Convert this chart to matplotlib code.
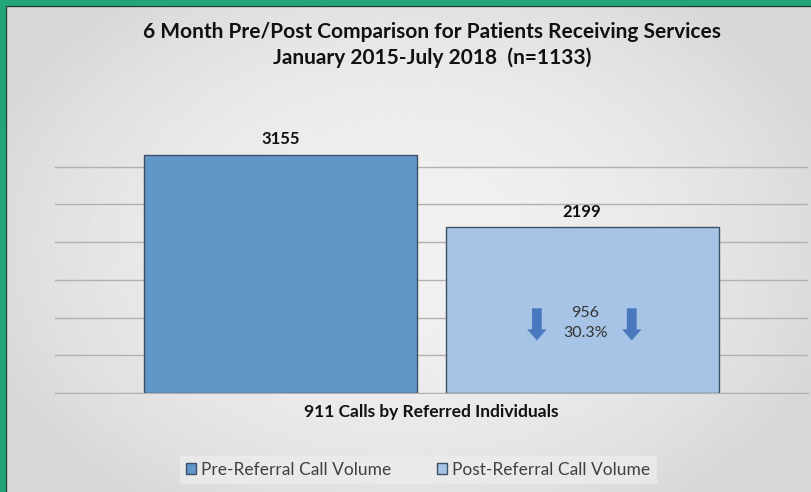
import numpy as np
import matplotlib.pyplot as plt
from matplotlib.patches import Rectangle

categories = ["911 Calls by Referred Individuals"]
series = ["Pre-Referral Call Volume", "Post-Referral Call Volume"]
values = [3155, 2199]
change = 956
change_pct = 30.3

plt.rcParams['font.family'] = ['Lato', 'DejaVu Sans']

fig = plt.figure(figsize=(8.12, 4.92), dpi=100)

# background: gray gradient, lighter in the middle
bg = fig.add_axes([0, 0, 1, 1])
xx = np.linspace(-1, 1, 300)
yy = np.linspace(-1, 1, 200)
X, Y = np.meshgrid(xx, yy)
shade = 0.945 - 0.10 * np.clip(np.sqrt((X / 1.1) ** 2 + (Y / 1.3) ** 2), 0, 1) ** 2
bg.imshow(shade, cmap='gray', vmin=0, vmax=1, aspect='auto', extent=[0, 1, 0, 1])
bg.set_xlim(0, 1)
bg.set_ylim(0, 1)
bg.axis('off')
# green frame
g = '#21a57a'
bg.add_patch(Rectangle((0, 0), 6 / 812, 1, color=g, transform=bg.transAxes))
bg.add_patch(Rectangle((0, 1 - 6 / 492), 1, 6 / 492, color=g, transform=bg.transAxes))
bg.plot([6 / 812, 6 / 812], [0, 1 - 6 / 492], color='#333333', lw=0.8)
bg.plot([6 / 812, 1], [1 - 6 / 492, 1 - 6 / 492], color='#333333', lw=0.8)

ax = fig.add_axes([0.0677, 0.2012, 0.9273, 0.5366])
ax.patch.set_alpha(0)
colors = ['#6196c9', '#a7c3e5']
width = 0.3625
offsets = [-0.2, 0.2]
for i in range(2):
    ax.bar(offsets[i], values[i], width, color=colors[i], edgecolor='#3e5068',
           linewidth=1.0, label=series[i], zorder=3)
    ax.text(offsets[i], values[i] + 100, str(values[i]), ha='center', va='bottom',
            fontsize=12, fontweight='bold', color='#111111')

ax.set_xlim(-0.5, 0.5)
ax.set_ylim(0, 3500)
ax.set_yticks(np.arange(0, 3001, 500))
ax.yaxis.grid(True, color='#b4b0b0', lw=1.0, zorder=0)
ax.tick_params(axis='y', length=0, labelleft=False)
ax.set_xticks([0])
ax.set_xticklabels(categories, fontsize=12.5, fontweight='bold', color='#111111')
ax.tick_params(axis='x', length=0, pad=8)
for s in ['top', 'right', 'left']:
    ax.spines[s].set_visible(False)
ax.spines['bottom'].set_color('#b4b0b0')

ax.text(0.204, 930, f"{change}\n{change_pct}%", ha='center', va='center',
        fontsize=11.5, color='#333333', linespacing=1.5)
for xa in [0.140, 0.266]:
    ax.annotate('', xy=(xa, 660), xytext=(xa, 1160),
                arrowprops=dict(arrowstyle='simple,head_width=1.4,head_length=0.8,tail_width=0.7',
                                color='#4a78bf', lw=0))

fig.text(0.532, 0.935, "6 Month Pre/Post Comparison for Patients Receiving Services",
         ha='center', va='center', fontsize=15, fontweight='bold', color='#111111')
fig.text(0.532, 0.882, "January 2015-July 2018  (n=1133)",
         ha='center', va='center', fontsize=15, fontweight='bold', color='#111111')

leg = fig.legend(loc='center', bbox_to_anchor=(0.515, 0.045), ncol=2, frameon=True,
                 fontsize=12.5, handlelength=0.6, handleheight=0.6, columnspacing=2.6,
                 handletextpad=0.3, fancybox=False, borderpad=0.35, borderaxespad=0)
leg.get_frame().set_facecolor('#ececec')
leg.get_frame().set_edgecolor('none')
for t in leg.get_texts():
    t.set_color('#404040')

fig.savefig('out.png', dpi=100)
